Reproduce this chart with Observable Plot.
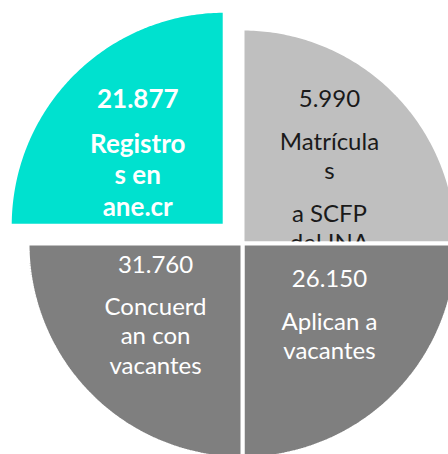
<!DOCTYPE html>
<html><head><meta charset="utf-8">
<script src="https://cdn.jsdelivr.net/npm/d3@7"></script>
<script src="https://cdn.jsdelivr.net/npm/@observablehq/plot@0.6"></script>
<style>html,body{margin:0;padding:0;background:#fff;overflow:hidden}</style>
</head><body><div id="chart"></div>
<script>
// Quadrants, clockwise from 12 o'clock (top-right first)
const categories = ["Matrícula\ns\n\na SCFP\ndel INA", "Aplican a\nvacantes", "Concuerd\nan con\nvacantes", "Registro\ns en\nane.cr"];
const values = [5990, 26150, 31760, 21877];
const colors = ["#BFBFBF", "#7F7F7F", "#7F7F7F", "#00E1CF"];
const textColors = ["#1a1a1a", "#ffffff", "#ffffff", "#ffffff"];
const bold = [false, false, false, true];
const explode = [0, 0, 0, 0.117];

const W = 448, H = 454;
const R = 215;            // pie radius (px)
const cx = 242, cy = 243; // pie centre (px)
const FS = 24, FSB = 26;
const kx = 0.572, ky = 0.474; // label anchor factors

const fmt = d3.formatLocale({decimal: ",", thousands: ".", grouping: [3], currency: ["", ""]}).format(",");

const slices = categories.map((label, i) => {
  const a0 = i * Math.PI / 2, a1 = (i + 1) * Math.PI / 2, am = (a0 + a1) / 2;
  const ox = explode[i] * Math.sin(am), oy = explode[i] * Math.cos(am);
  const pts = [{x: ox, y: oy}];
  const N = 120;
  for (let k = 0; k <= N; k++) {
    const a = a0 + (a1 - a0) * k / N;
    pts.push({x: ox + Math.sin(a), y: oy + Math.cos(a)});
  }
  pts.push({x: ox, y: oy});
  // text lines
  const lineGap = bold[i] ? 31.7 : 29.4, paraGap = bold[i] ? 45 : 42.5;
  const lines = [{t: fmt(values[i]), off: 0}];
  let off = 0;
  const paras = label.split("\n\n");
  paras.forEach((p) => {
    p.split("\n").forEach((ln, j) => {
      off += (j === 0) ? paraGap : lineGap;
      lines.push({t: ln, off});
    });
  });
  const center = off / 2;
  const ax = ox + kx * Math.sin(am), ay = oy + ky * Math.cos(am);
  const texts = lines.map(l => ({x: ax, y: ay - (l.off - center) / R, text: l.t}));
  return {i, pts, texts, mid: Math.cos(am)};
});

const order = slices.slice().sort((a, b) => b.mid - a.mid || b.i - a.i);
const marks = [];
for (const s of order) {
  marks.push(Plot.line(s.pts, {x: "x", y: "y", fill: colors[s.i], stroke: "white", strokeWidth: 4,
    strokeLinejoin: "miter", strokeLinecap: "square", curve: "linear", clip: true}));
  marks.push(Plot.text(s.texts, {x: "x", y: "y", text: "text", fill: textColors[s.i],
    fontSize: bold[s.i] ? FSB : FS, fontWeight: bold[s.i] ? "bold" : "normal", fontFamily: "Lato",
    textAnchor: "middle", lineAnchor: "middle", clip: true}));
}

const chart = Plot.plot({
  width: W, height: H, margin: 0,
  x: {domain: [-cx / R, (W - cx) / R], axis: null},
  y: {domain: [-(H - cy) / R, cy / R], axis: null},
  style: {background: "white"},
  marks
});
document.getElementById("chart").appendChild(chart);
</script>
</body></html>
